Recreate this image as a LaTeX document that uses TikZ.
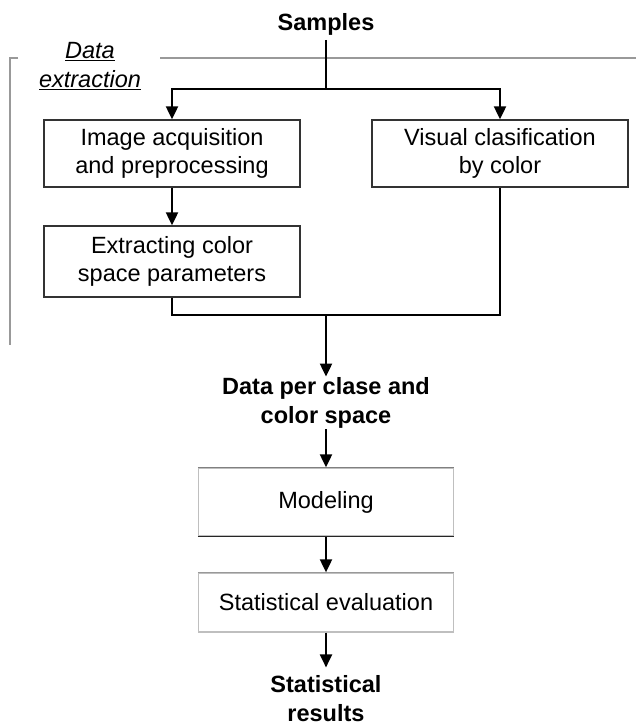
\documentclass[tikz,border=0pt]{standalone}
\usepackage{fontspec}
\setmainfont{Liberation Sans}
\usetikzlibrary{arrows.meta}
\begin{document}
\begin{tikzpicture}[x=1pt,y=-1pt,
  conn/.style={line width=2pt, black},
  arr/.style={conn, -{Triangle[length=13pt,width=12pt]}},
  frame/.style={line width=1.2pt, black!40},
  txt/.style={font=\fontsize{23.5}{28.5}\selectfont, align=center},
  btxt/.style={font=\fontsize{23.5}{28.5}\selectfont\bfseries, align=center, inner sep=1pt},
  boxa/.style={txt, draw=black!80, line width=1.3pt, minimum width=256pt, inner sep=0pt},
  boxb/.style={txt, draw=black!25, line width=1.3pt, minimum width=255pt, inner sep=0pt}
]
\useasboundingbox (0,0) rectangle (636,725);
\fill[white] (0,0) rectangle (636,725);

% frame of the data extraction stage
\draw[frame] (18,58) -- (10,58) -- (10,345);
\draw[frame] (160,58) -- (636,58);
\node[font=\fontsize{23.5}{28.5}\selectfont\itshape, align=center, inner sep=0pt] (lbl) at (90,66) {\underline{Data}\\\underline{extraction}};

% nodes
\node[btxt, anchor=base] (samples) at (326,31) {Samples};
\node[boxa, minimum height=67pt] (acq) at (172,153.5) {Image acquisition\\and preprocessing};
\node[boxa, minimum height=67pt] (vis) at (500,153.5) {Visual clasification\\by color};
\node[boxa, minimum height=71pt] (ext) at (172,261.5) {Extracting color\\space parameters};
\node[btxt] (data) at (326,403) {Data per clase and\\color space};
\node[boxb, minimum height=68pt] (mod) at (326,502) {Modeling};
\node[boxb, minimum height=59pt] (stat) at (326,602.5) {Statistical evaluation};
\node[btxt, inner sep=0pt] (res) at (326,698.5) {Statistical\\results};

% darker box edges as in the reference
\draw[black!50, line width=1.3pt] (mod.north west) -- (mod.north east);
\draw[black!85, line width=1.5pt] (mod.south west) -- (mod.south east);
\draw[black!40, line width=1.3pt] (stat.north west) -- (stat.north east);

% connectors
\coordinate (s0) at (326,40);
\coordinate (j1) at (326,89);
\coordinate (j2) at (326,315);
\draw[conn] (s0) -- (j1);
\draw[arr] (j1) -| (acq.north);
\draw[arr] (j1) -| (vis.north);
\draw[arr] (acq.south) -- (ext.north);
\draw[conn] (ext.south) |- (j2) -| (vis.south);
\draw[arr] (j2) -- (data.north);
\draw[arr] (data.south) -- (mod.north);
\draw[arr] (mod.south) -- (stat.north);
\draw[arr, shorten >=8pt] (stat.south) -- (res.north);
\end{tikzpicture}
\end{document}
